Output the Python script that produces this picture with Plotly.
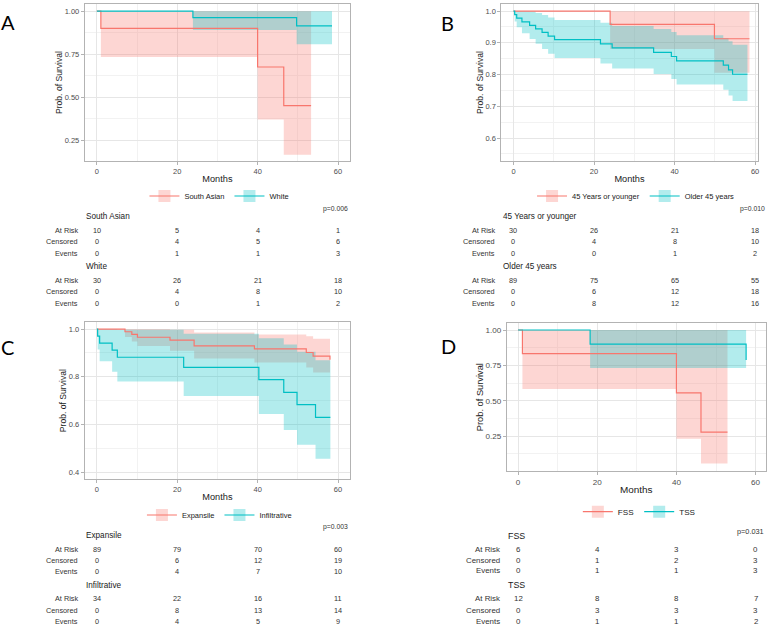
import plotly.graph_objects as go

# ---- colours (ggplot default two-group palette)
RED, TEAL = "#F8766D", "#00BFC4"
RED_FILL, TEAL_FILL = "rgba(248,118,109,0.3)", "rgba(0,191,196,0.3)"
FONT = "Liberation Sans, Arial, sans-serif"

TABLE_TIMES = [0, 20, 40, 60]

# ---- A: ethnicity
a_sa_t = [0, 1.0, 40.0, 46.5, 53.3]
a_sa_s = [1, 0.900, 0.675, 0.450, 0.450]
a_sa_lo = [1, 0.733, 0.370, 0.165, 0.165]
a_sa_hi = [1, 1, 1, 1, 1]
a_wh_t = [0, 23.9, 49.7, 58.5]
a_wh_s = [1, 0.962, 0.914, 0.914]
a_wh_lo = [1, 0.891, 0.808, 0.808]
a_wh_hi = [1, 1, 1, 1]
a_sa_risk, a_sa_cens, a_sa_ev = [10, 5, 4, 1], [0, 4, 5, 6], [0, 1, 1, 3]
a_wh_risk, a_wh_cens, a_wh_ev = [30, 26, 21, 18], [0, 4, 8, 10], [0, 0, 1, 2]

# ---- B: age
b_yg_t = [0, 24.0, 49.9, 58.6]
b_yg_s = [1, 0.958, 0.913, 0.913]
b_yg_lo = [1, 0.881, 0.806, 0.806]
b_yg_hi = [1, 1, 1, 1]
b_old_t = [0, 0.3, 0.8, 2.1, 4.0, 5.5, 7.1, 8.6, 10.2, 21.6, 24.5, 34.8, 39.2,
           40.5, 52.1, 53.4, 54.4, 58.1]
b_old_s = [1, 0.989, 0.978, 0.966, 0.955, 0.944, 0.933, 0.921, 0.910, 0.897,
           0.884, 0.870, 0.857, 0.843, 0.830, 0.815, 0.801, 0.801]
b_old_lo = [1, 0.967, 0.949, 0.930, 0.912, 0.897, 0.881, 0.866, 0.852, 0.835,
            0.819, 0.802, 0.786, 0.769, 0.752, 0.734, 0.717, 0.717]
b_old_hi = [1, 1, 1, 1, 0.999, 0.994, 0.988, 0.980, 0.972, 0.963, 0.953, 0.944,
            0.934, 0.924, 0.915, 0.905, 0.894, 0.894]
b_yg_risk, b_yg_cens, b_yg_ev = [30, 26, 21, 18], [0, 4, 8, 10], [0, 0, 1, 2]
b_old_risk, b_old_cens, b_old_ev = [89, 75, 65, 55], [0, 6, 12, 18], [0, 8, 12, 16]

# ---- C: growth pattern
c_exp_t = [0, 7.0, 8.7, 10.1, 18.2, 24.2, 39.2, 52.1, 53.8, 58.0]
c_exp_s = [1, 0.989, 0.978, 0.966, 0.954, 0.930, 0.917, 0.902, 0.887, 0.872]
c_exp_lo = [1, 0.967, 0.948, 0.929, 0.909, 0.877, 0.860, 0.839, 0.818, 0.818]
c_exp_hi = [1, 1, 1, 1, 0.998, 0.986, 0.978, 0.970, 0.960, 0.960]
c_inf_t = [0, 0.2, 0.7, 3.8, 5.1, 21.6, 40.3, 46.5, 49.8, 54.4, 58.1]
c_inf_s = [1, 0.971, 0.941, 0.912, 0.882, 0.840, 0.788, 0.735, 0.683, 0.630, 0.630]
c_inf_lo = [1, 0.915, 0.865, 0.821, 0.780, 0.719, 0.644, 0.577, 0.515, 0.456, 0.456]
c_inf_hi = [1, 1, 1, 1, 0.997, 0.981, 0.962, 0.936, 0.905, 0.870, 0.870]
c_exp_risk, c_exp_cens, c_exp_ev = [89, 79, 70, 60], [0, 6, 12, 19], [0, 4, 7, 10]
c_inf_risk, c_inf_cens, c_inf_ev = [34, 22, 16, 11], [0, 8, 13, 14], [0, 4, 5, 9]

# ---- D: FSS / TSS
d_fss_t = [0, 1.1, 40.0, 46.2, 52.9]
d_fss_s = [1, 0.833, 0.555, 0.278, 0.278]
d_fss_lo = [1, 0.582, 0.231, 0.055, 0.055]
d_fss_hi = [1, 1, 1, 1, 1]
d_tss_t = [0, 18.2, 57.6]
d_tss_s = [1, 0.900, 0.7875]
d_tss_lo = [1, 0.732, 0.732]
d_tss_hi = [1, 1, 1]
d_fss_risk, d_fss_cens, d_fss_ev = [6, 4, 3, 0], [0, 1, 2, 3], [0, 1, 1, 3]
d_tss_risk, d_tss_cens, d_tss_ev = [12, 8, 8, 7], [0, 3, 3, 3], [0, 1, 1, 2]

W, H = 772, 629


def px(x):
    return x / W


def py(y):
    return 1 - y / H


panels = [
    dict(letter="A", n="", letter_xy=(8, 22), xdom=(85, 351), ydom=(4, 161),
         xr=(-3, 63), yr=(0.1285, 1.0415), dtick=0.25, fmt=".2f", p="p=0.006",
         legend_xy=(220, 196), p_xy=(351, 209), lab_x=80, title_x=84.7,
         rows=[217, 230, 241.7, 253.3, 266.7, 280, 291.3, 303.3], scale=1.0,
         groups=[("South Asian", a_sa_t, a_sa_s, a_sa_lo, a_sa_hi, a_sa_risk, a_sa_cens, a_sa_ev),
                 ("White", a_wh_t, a_wh_s, a_wh_lo, a_wh_hi, a_wh_risk, a_wh_cens, a_wh_ev)]),
    dict(letter="B", n="2", letter_xy=(449, 23), xdom=(502.7, 759.5), ydom=(4, 161),
         xr=(-3, 60.6), yr=(0.5275, 1.0225), dtick=0.1, fmt=".1f", p="p=0.010",
         legend_xy=(637.7, 196), p_xy=(768.5, 209), lab_x=498.7, title_x=502.7,
         rows=[216.7, 230, 241.7, 253.3, 266.7, 280, 291.3, 303.3], scale=1.0,
         groups=[("45 Years or younger", b_yg_t, b_yg_s, b_yg_lo, b_yg_hi, b_yg_risk, b_yg_cens, b_yg_ev),
                 ("Older 45 years", b_old_t, b_old_s, b_old_lo, b_old_hi, b_old_risk, b_old_cens, b_old_ev)]),
    dict(letter="C", n="3", letter_xy=(8, 347), xdom=(85, 351), ydom=(322, 479.3),
         xr=(-3, 63), yr=(0.37, 1.03), dtick=0.2, fmt=".1f", p="p=0.003",
         legend_xy=(220, 515), p_xy=(351, 527.3), lab_x=80.3, title_x=84.7,
         rows=[535.3, 549, 560.3, 571.7, 585, 598.3, 610, 621.7], scale=1.0,
         groups=[("Expansile", c_exp_t, c_exp_s, c_exp_lo, c_exp_hi, c_exp_risk, c_exp_cens, c_exp_ev),
                 ("Infiltrative", c_inf_t, c_inf_s, c_inf_lo, c_inf_hi, c_inf_risk, c_inf_cens, c_inf_ev)]),
    dict(letter="D", n="4", letter_xy=(450, 346), xdom=(508.3, 767.5), ydom=(323.3, 471),
         xr=(-2.8, 62.5), yr=(0.0025, 1.0475), dtick=0.25, fmt=".2f", p="p=0.031",
         legend_xy=(641, 511.7), p_xy=(767.7, 531), lab_x=503.3, title_x=507.7,
         rows=[536, 549, 560, 570.5, 585, 598.3, 610, 621], scale=1.08,
         groups=[("FSS", d_fss_t, d_fss_s, d_fss_lo, d_fss_hi, d_fss_risk, d_fss_cens, d_fss_ev),
                 ("TSS", d_tss_t, d_tss_s, d_tss_lo, d_tss_hi, d_tss_risk, d_tss_cens, d_tss_ev)]),
]

fig = go.Figure()
annotations = []
colors = [(RED, RED_FILL), (TEAL, TEAL_FILL)]

for pn in panels:
    xa, ya = "x" + pn["n"], "y" + pn["n"]
    leg = "legend" + pn["n"]
    sc = pn["scale"]

    # confidence bands first
    for (name, t, s, lo, hi, *_), (col, fill) in zip(pn["groups"], colors):
        fig.add_trace(go.Scatter(x=t, y=hi, mode="lines", line=dict(width=0, shape="hv"),
                                 xaxis=xa, yaxis=ya, showlegend=False, hoverinfo="skip"))
        fig.add_trace(go.Scatter(x=t, y=lo, mode="lines", line=dict(width=0, shape="hv"),
                                 fill="tonexty", fillcolor=fill,
                                 xaxis=xa, yaxis=ya, showlegend=False, hoverinfo="skip"))
    # survival step curves
    for (name, t, s, *_), (col, fill) in zip(pn["groups"], colors):
        fig.add_trace(go.Scatter(x=t, y=s, mode="lines", line=dict(color=col, width=1.2, shape="hv"),
                                 xaxis=xa, yaxis=ya, showlegend=False, name=name))
    # legend keys
    for (name, *_), (col, fill) in zip(pn["groups"], colors):
        fig.add_trace(go.Scatter(x=[None], y=[None], mode="lines+markers", name=name,
                                 line=dict(color=col, width=1.2),
                                 marker=dict(symbol="square", size=12, color=fill),
                                 xaxis=xa, yaxis=ya, legend=leg))

    axis_common = dict(showline=True, mirror=True, linecolor="#B3B3B3", linewidth=1,
                       ticks="outside", ticklen=3, tickcolor="#B3B3B3",
                       gridcolor="#E6E6E6", gridwidth=1, zeroline=False,
                       tickfont=dict(size=7.5 * sc, color="#4D4D4D", family=FONT))
    fig.layout["xaxis" + pn["n"]] = dict(
        axis_common, domain=[px(pn["xdom"][0]), px(pn["xdom"][1])], range=list(pn["xr"]),
        anchor=ya, tickmode="linear", tick0=0, dtick=20,
        minor=dict(dtick=10, tick0=0, showgrid=True, gridcolor="#F2F2F2", gridwidth=0.8),
        title=dict(text="Months", font=dict(size=9.2 * sc, color="#1A1A1A", family=FONT), standoff=0))
    fig.layout["yaxis" + pn["n"]] = dict(
        axis_common, domain=[py(pn["ydom"][1]), py(pn["ydom"][0])], range=list(pn["yr"]),
        anchor=xa, tickmode="linear", tick0=0, dtick=pn["dtick"], tickformat=pn["fmt"],
        minor=dict(dtick=pn["dtick"] / 2, tick0=0, showgrid=True, gridcolor="#F2F2F2", gridwidth=0.8),
        title=dict(text="Prob. of Survival", font=dict(size=8.6 * sc, color="#1A1A1A", family=FONT), standoff=0))

    fig.layout[leg] = dict(orientation="h", x=px(pn["legend_xy"][0]), y=py(pn["legend_xy"][1]),
                           xanchor="center", yanchor="middle", bgcolor="rgba(0,0,0,0)",
                           font=dict(size=7.5 * sc, color="#1A1A1A", family=FONT),
                           itemwidth=30, tracegroupgap=0, traceorder="normal")

    # panel letter
    annotations.append(dict(text=pn["letter"], x=px(pn["letter_xy"][0]), y=py(pn["letter_xy"][1]),
                            xref="paper", yref="paper", showarrow=False, xanchor="center",
                            yanchor="middle", font=dict(size=20, color="#000000", family="Lato")))
    # p value
    annotations.append(dict(text=pn["p"], x=px(pn["p_xy"][0]), y=py(pn["p_xy"][1]),
                            xref="paper", yref="paper", showarrow=False, xanchor="right",
                            yanchor="middle", font=dict(size=6.8 * sc, color="#333333", family=FONT)))
    # risk tables
    rows = pn["rows"]
    for gi, (name, t, s, lo, hi, risk, cens, ev) in enumerate(pn["groups"]):
        r0 = gi * 4
        annotations.append(dict(text=name, x=px(pn["title_x"]), y=py(rows[r0]),
                                xref="paper", yref="paper", showarrow=False, xanchor="left",
                                yanchor="middle", font=dict(size=8.2 * sc, color="#1A1A1A", family=FONT)))
        for ri, (lab, vals) in enumerate([("At Risk", risk), ("Censored", cens), ("Events", ev)]):
            yy = py(rows[r0 + 1 + ri])
            annotations.append(dict(text=lab, x=px(pn["lab_x"]), y=yy, xref="paper", yref="paper",
                                    showarrow=False, xanchor="right", yanchor="middle",
                                    font=dict(size=7.3 * sc, color="#333333", family=FONT)))
            for tt, v in zip(TABLE_TIMES, vals):
                annotations.append(dict(text=str(v), x=tt, y=yy, xref=xa, yref="paper",
                                        showarrow=False, xanchor="center", yanchor="middle",
                                        font=dict(size=7.3 * sc, color="#333333", family=FONT)))

fig.update_layout(width=W, height=H, autosize=False, margin=dict(l=0, r=0, t=0, b=0),
                  paper_bgcolor="white", plot_bgcolor="white", annotations=annotations,
                  font=dict(family=FONT))
# page has a default 8px body margin; remove it so the 772x629 figure fills the window
fig.write_html("out.html", config={"displayModeBar": False},
               post_script="document.body.style.margin='0';")
